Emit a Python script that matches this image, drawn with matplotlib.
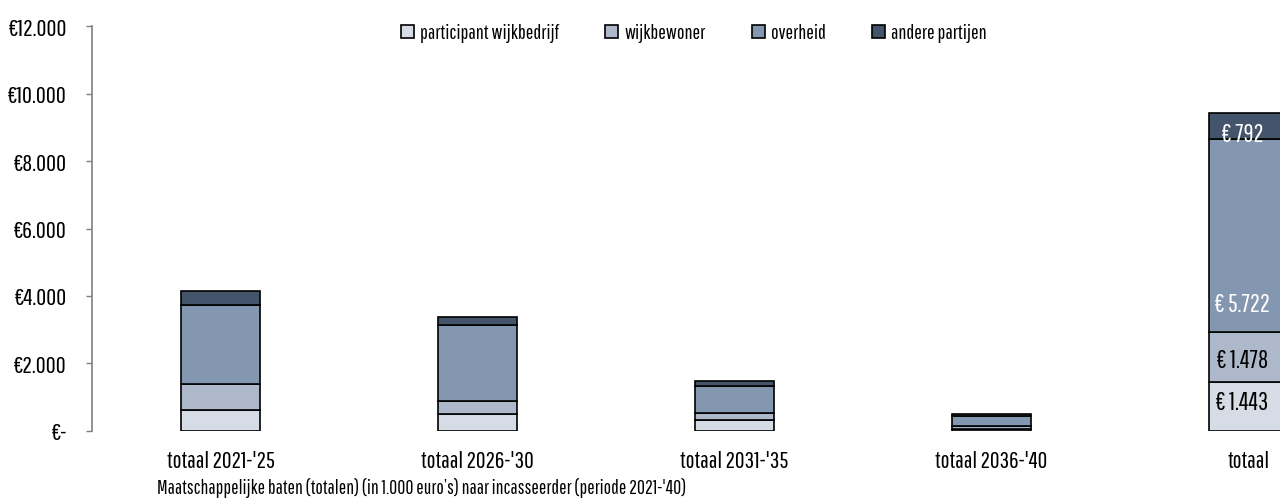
import matplotlib
matplotlib.use("Agg")
import matplotlib.pyplot as plt
import numpy as np

# values in 1.000 euro's
categories = ["totaal 2021-'25", "totaal 2026-'30", "totaal 2031-'35", "totaal 2036-'40", "totaal"]
series_names = ["participant wijkbedrijf", "wijkbewoner", "overheid", "andere partijen"]
participant = [620, 490, 310, 40, 1443]
wijkbewoner = [765, 400, 225, 90, 1478]
overheid = [2345, 2240, 805, 300, 5722]
andere = [410, 235, 135, 60, 792]
yticks = [0, 2000, 4000, 6000, 8000, 10000, 12000]
ytick_labels = ["€-", "€2.000", "€4.000", "€6.000", "€8.000", "€10.000", "€12.000"]

colors = ["#d6dce5", "#adb9ca", "#8497b0", "#44546a"]
label_colors = ["black", "black", "white", "white"]
label_offsets = [12, 7, 12, -5]  # points above segment base

plt.rcParams['font.family'] = ['Pathway Gothic One', 'Asap Condensed', 'DejaVu Sans']

fig = plt.figure(figsize=(12.8, 5.02), dpi=100)
ax = fig.add_axes([92/1280, 70.3/502, 1285/1280, 404.4/502])

data = [participant, wijkbewoner, overheid, andere]
x = np.arange(len(categories))
bottom = np.zeros(len(categories))
for i, vals in enumerate(data):
    vals = np.array(vals, dtype=float)
    ax.bar(x, vals, 0.31, bottom=bottom, color=colors[i], edgecolor="black",
           linewidth=1.2, label=series_names[i])
    # data labels only on the total bar
    j = len(categories) - 1
    ax.annotate("€ " + f"{int(vals[j]):,}".replace(",", "."), xy=(x[j], bottom[j]),
                xytext=(-4.5, label_offsets[i]), textcoords="offset points",
                ha="center", va="bottom", fontsize=18, color=label_colors[i])
    bottom += vals

ax.set_xlim(-0.5, len(categories) - 0.5)
ax.set_ylim(0, 12000)
ax.set_xticks(x)
ax.set_xticklabels(categories, fontsize=17)
ax.set_yticks(yticks)
ax.set_yticklabels(ytick_labels, fontsize=17.5)
ax.tick_params(axis="x", length=0, pad=14)
ax.tick_params(axis="y", length=4, width=1, color="#808080", pad=14)
for s in ["top", "right", "bottom"]:
    ax.spines[s].set_visible(False)
ax.spines["left"].set_color("#808080")
ax.spines["left"].set_linewidth(1.2)

fig.legend(loc="center", bbox_to_anchor=(694/1280, 1 - 34/502), ncol=4, frameon=False,
           fontsize=14.5, handlelength=0.65, handleheight=0.65, handletextpad=0.3,
           columnspacing=2.3)

fig.text(157/1280, 1 - 488/502, "Maatschappelijke baten (totalen) (in 1.000 euro’s) naar incasseerder (periode 2021-'40)",
         ha="left", va="center", fontsize=14)

fig.savefig("out.png", dpi=100)
